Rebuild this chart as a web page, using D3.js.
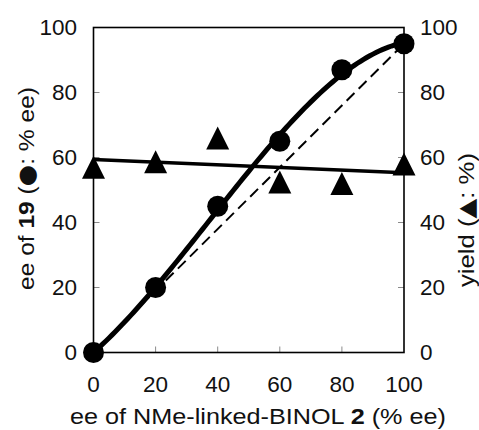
<!DOCTYPE html>
<html>
<head>
<meta charset="utf-8">
<script src="https://cdn.jsdelivr.net/npm/d3@7"></script>
<style>
  html, body { margin: 0; padding: 0; background: #fff; }
  svg { display: block; }
  text { font-family: "Liberation Sans", Arial, Helvetica, sans-serif; fill: #111; }
</style>
</head>
<body>
<svg id="chart" width="479" height="430"></svg>
<script>
// ---- data ----
const xValues      = [0, 20, 40, 60, 80, 100];        // ee of NMe-linked-BINOL 2 (% ee)
const eeProduct    = [0, 20, 45, 65, 87, 95];         // ee of 19 (% ee)  (circles)
const yieldValues  = [57, 58.7, 66, 52.5, 52, 58];    // yield (%)        (triangles)
const linearRef    = [[0, 0], [100, 95]];             // dashed linear reference
const xTicks       = [0, 20, 40, 60, 80, 100];
const yTicks       = [0, 20, 40, 60, 80, 100];

// ---- layout ----
const svg = d3.select("#chart");
const x  = d3.scaleLinear().domain([0, 100]).range([93.5, 404]);
const yL = d3.scaleLinear().domain([0, 100]).range([352.5, 27.5]);
const yR = d3.scaleLinear().domain([0, 100]).range([352.5, 27.5]);

// least squares fit on given power basis
function powerFit(xs, ys, powers) {
  const n = powers.length;
  const A = Array.from({length: n}, () => new Array(n + 1).fill(0));
  xs.forEach((xv, i) => {
    for (let r = 0; r < n; r++) {
      for (let c = 0; c < n; c++) A[r][c] += Math.pow(xv, powers[r] + powers[c]);
      A[r][n] += ys[i] * Math.pow(xv, powers[r]);
    }
  });
  for (let col = 0; col < n; col++) {
    let piv = col;
    for (let r = col + 1; r < n; r++) if (Math.abs(A[r][col]) > Math.abs(A[piv][col])) piv = r;
    [A[col], A[piv]] = [A[piv], A[col]];
    for (let r = 0; r < n; r++) {
      if (r === col) continue;
      const f = A[r][col] / A[col][col];
      for (let c = col; c <= n; c++) A[r][c] -= f * A[col][c];
    }
  }
  const coef = A.map((row, i) => row[n] / row[i]);
  return v => coef.reduce((s, c, i) => s + c * Math.pow(v, powers[i]), 0);
}
// cubic trend through the origin for ee, linear trend for yield
const eeFit = powerFit(xValues.map(v => v / 20), eeProduct, [1, 2, 3]);
const yieldFit = powerFit(xValues, yieldValues, [0, 1]);
const samples = d3.range(0, 100.01, 1);

// frame ticks (inward, gray)
const tickLen = 6;
const gT = svg.append("g").attr("stroke", "#8a8a8a").attr("stroke-width", 1);
yTicks.slice(1, -1).forEach(t => {
  gT.append("line").attr("x1", x(0)).attr("x2", x(0) + tickLen).attr("y1", yL(t)).attr("y2", yL(t));
  gT.append("line").attr("x1", x(100)).attr("x2", x(100) - tickLen).attr("y1", yR(t)).attr("y2", yR(t));
});
xTicks.slice(1, -1).forEach(t => {
  gT.append("line").attr("x1", x(t)).attr("x2", x(t)).attr("y1", yL(0)).attr("y2", yL(0) - tickLen);
});

// frame
svg.append("rect")
  .attr("x", x(0)).attr("y", yL(100))
  .attr("width", x(100) - x(0)).attr("height", yL(0) - yL(100))
  .attr("fill", "none").attr("stroke", "#000").attr("stroke-width", 1.6);

// dashed linear reference
svg.append("path")
  .attr("d", d3.line().x(d => x(d[0])).y(d => yL(d[1]))(linearRef))
  .attr("fill", "none").attr("stroke", "#000").attr("stroke-width", 2)
  .attr("stroke-dasharray", "11,6");

// yield regression line
svg.append("path")
  .attr("d", d3.line().x(d => x(d)).y(d => yR(yieldFit(d)))([0, 100]))
  .attr("fill", "none").attr("stroke", "#000").attr("stroke-width", 3.5);

// ee trend curve
svg.append("path")
  .attr("d", d3.line().x(d => x(d)).y(d => yL(eeFit(d / 20)))(samples))
  .attr("fill", "none").attr("stroke", "#000").attr("stroke-width", 5)
  .attr("stroke-linecap", "round");

// triangles
const tri = 11.5;
svg.append("g").selectAll("path").data(xValues.map((v, i) => [v, yieldValues[i]])).join("path")
  .attr("d", d => {
    const cx = x(d[0]), cy = yR(d[1]);
    return `M${cx},${cy - tri}L${cx + tri},${cy + tri}L${cx - tri},${cy + tri}Z`;
  })
  .attr("fill", "#000");

// circles
svg.append("g").selectAll("circle").data(xValues.map((v, i) => [v, eeProduct[i]])).join("circle")
  .attr("cx", d => x(d[0])).attr("cy", d => yL(d[1])).attr("r", 10.5).attr("fill", "#000");

// tick labels
const fs = 22.5;
svg.append("g").selectAll("text").data(yTicks).join("text")
  .attr("x", 77).attr("y", d => yL(d)).attr("dy", "0.35em")
  .attr("text-anchor", "end").attr("font-size", fs).text(d => d);
svg.append("g").selectAll("text").data(yTicks).join("text")
  .attr("x", 420).attr("y", d => yR(d)).attr("dy", "0.35em")
  .attr("text-anchor", "start").attr("font-size", fs).text(d => d);
svg.append("g").selectAll("text").data(xTicks).join("text")
  .attr("x", d => x(d)).attr("y", 391.5)
  .attr("text-anchor", "middle").attr("font-size", fs).text(d => d);

// x axis title
const xt = svg.append("text").attr("x", 70).attr("y", 424)
  .attr("text-anchor", "start").attr("font-size", 22.5)
  .attr("textLength", 376).attr("lengthAdjust", "spacingAndGlyphs");
xt.append("tspan").text("ee of NMe-linked-BINOL ");
xt.append("tspan").attr("font-weight", "bold").text("2");
xt.append("tspan").text(" (% ee)");

// left title
const lt = svg.append("text").attr("transform", "translate(34,290) rotate(-90)")
  .attr("text-anchor", "start").attr("font-size", 22.5)
  .attr("textLength", 203).attr("lengthAdjust", "spacingAndGlyphs");
lt.append("tspan").text("ee of ");
lt.append("tspan").attr("font-weight", "bold").text("19");
lt.append("tspan").text(" (");
lt.append("tspan").attr("font-family", "DejaVu Sans").text("\u25CF");
lt.append("tspan").text(": % ee)");

// right title
const rt = svg.append("text").attr("transform", "translate(474,287) rotate(-90)")
  .attr("text-anchor", "start").attr("font-size", 22.5)
  .attr("textLength", 134).attr("lengthAdjust", "spacingAndGlyphs");
rt.append("tspan").text("yield (");
rt.append("tspan").attr("font-family", "DejaVu Sans").text("\u25B2");
rt.append("tspan").text(": %)");
</script>
</body>
</html>
